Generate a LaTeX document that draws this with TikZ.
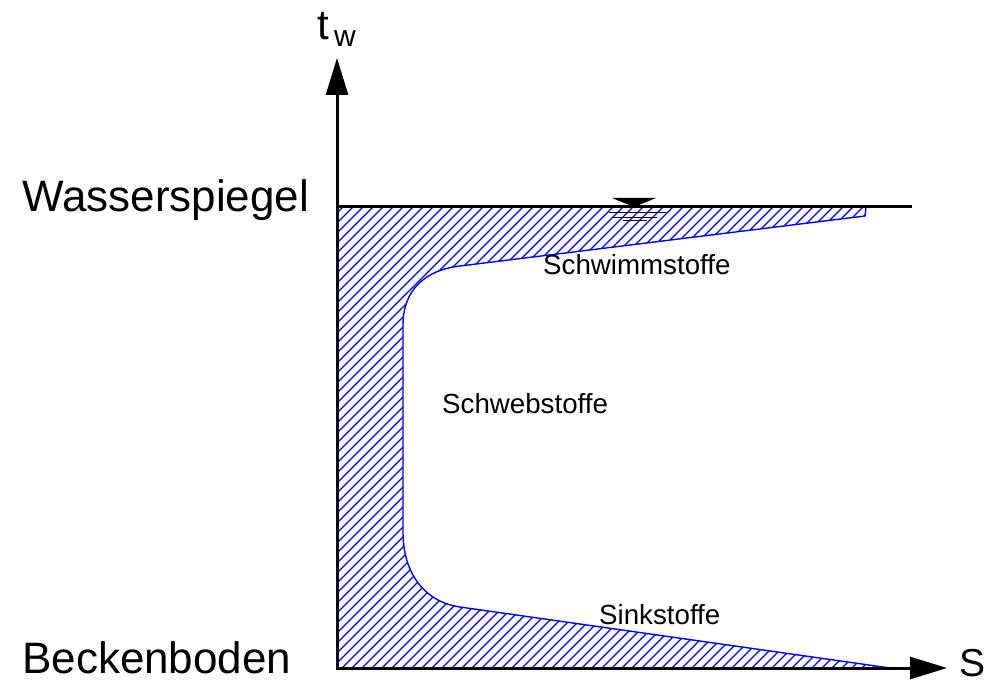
\documentclass[tikz,border=0pt]{standalone}
\usepackage{fontspec}
\setmainfont{Liberation Sans}
\usetikzlibrary{arrows.meta}
\tikzset{
  axis/.style={line width=3pt, black, miter limit=10,
    {Triangle[length=37pt,width=22pt]}-{Triangle[length=37pt,width=22pt]}},
  zone/.style={draw=blue, line width=1.4pt},
  hatch/.style={blue, line width=1.1pt},
  lbl/.style={inner sep=0pt, anchor=base west, text=black},
}
\newcommand{\fsz}[1]{\fontsize{#1}{#1}\selectfont}
\begin{document}
\begin{tikzpicture}[x=1pt,y=-1pt]
\useasboundingbox (0,0) rectangle (992,684);
% key points
\coordinate (O) at (337,668);
\coordinate (Y) at (337,58);
\coordinate (X) at (947,668);
\coordinate (WL) at (337,207);
\coordinate (WR) at (912,207);
% settled-matter zone
\def\zonepath{(337,207) -- (866,207) -- (865,216) -- (460,266)
  .. controls (425,270) and (403,290) .. (403,325) -- (403,532)
  .. controls (403,574) and (425,602) .. (460,607) -- (890,668)
  -- (337,668) -- cycle}
\begin{scope}
  \clip \zonepath;
  \foreach \i in {-700,-690,...,1000}{
    \draw[hatch] (\i,700) -- (\i+720,-20);
  }
\end{scope}
\draw[zone] \zonepath;
% axes
\draw[axis] (Y) -- (O) -- (X);
\draw[line width=3pt] (WL) -- (WR);
% water level symbol
\fill (612,198) -- (656,198) -- (634,207) -- cycle;
\draw[line width=1pt] (609,213) -- (666,213);
\draw[line width=1pt] (613,217.5) -- (657,217.5);
\draw[line width=1pt] (623,221) -- (647,221);
% labels
\node[lbl] (tw) at (317,40) {\fsz{42}t};
\node[lbl] (twsub) at (334,47) {\fsz{30}w};
\node[lbl] (S) at (959,676) {\fsz{39}S};
\node[lbl] (ws) at (22,212) {\fsz{44}Wasserspiegel};
\node[lbl] (bb) at (22,673) {\fsz{44}Beckenboden};
\node[lbl] (schwimm) at (543,275) {\fsz{27.7}Schwimmstoffe};
\node[lbl] (schweb) at (442,413) {\fsz{27.7}Schwebstoffe};
\node[lbl] (sink) at (599,624) {\fsz{27.7}Sinkstoffe};
\end{tikzpicture}
\end{document}
